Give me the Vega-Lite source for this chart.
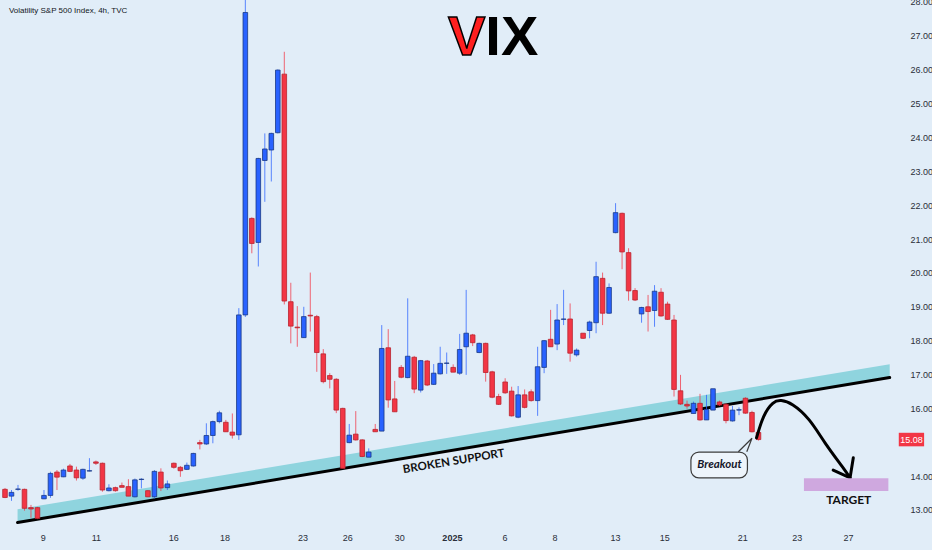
{
  "$schema": "https://vega.github.io/schema/vega-lite/v6.json",
  "autosize": {"type": "none"},
  "width": 880,
  "height": 525,
  "padding": {"left": 0, "top": 0, "right": 52, "bottom": 25},
  "background": "#e1edf8",
  "config": {
    "view": {"stroke": null},
    "axis": {"grid": false, "domain": false, "ticks": false, "tickSize": 0, "labelFontSize": 9, "labelColor": "#2a2e39", "labelFont": "Liberation Sans", "labelFlush": false, "labelOverlap": false, "title": null},
    "axisY": {"labelOverlap": false},
    "axisRight": {"labelOverlap": false},
    "axisQuantitative": {"labelOverlap": false}
  },
  "datasets": {
    "candles": [
      {"i":0,"o":13.61,"h":13.65,"l":13.35,"c":13.37},
      {"i":1,"o":13.41,"h":13.59,"l":13.27,"c":13.52},
      {"i":2,"o":13.61,"h":13.74,"l":13.57,"c":13.62},
      {"i":3,"o":13.61,"h":13.63,"l":12.98,"c":13.05},
      {"i":4,"o":13.07,"h":13.15,"l":12.77,"c":13.03},
      {"i":5,"o":13.07,"h":13.09,"l":12.73,"c":12.75},
      {"i":6,"o":13.33,"h":13.59,"l":13.32,"c":13.43},
      {"i":7,"o":13.43,"h":14.13,"l":13.36,"c":14.08},
      {"i":8,"o":14.12,"h":14.18,"l":13.59,"c":13.97},
      {"i":9,"o":13.98,"h":14.22,"l":13.97,"c":14.18},
      {"i":10,"o":14.30,"h":14.36,"l":14.12,"c":14.14},
      {"i":11,"o":14.18,"h":14.28,"l":13.87,"c":13.95},
      {"i":12,"o":13.94,"h":14.22,"l":13.89,"c":14.20},
      {"i":13,"o":14.15,"h":14.53,"l":14.14,"c":14.16},
      {"i":14,"o":14.42,"h":14.46,"l":14.33,"c":14.38},
      {"i":15,"o":14.38,"h":14.40,"l":13.54,"c":13.59},
      {"i":16,"o":13.57,"h":13.76,"l":13.55,"c":13.65},
      {"i":17,"o":13.66,"h":13.69,"l":13.54,"c":13.57},
      {"i":18,"o":13.72,"h":13.81,"l":13.67,"c":13.67},
      {"i":19,"o":13.69,"h":13.91,"l":13.41,"c":13.41},
      {"i":20,"o":13.39,"h":13.93,"l":13.37,"c":13.89},
      {"i":21,"o":13.90,"h":13.94,"l":13.64,"c":13.91},
      {"i":22,"o":13.57,"h":13.59,"l":13.38,"c":13.39},
      {"i":23,"o":13.39,"h":14.18,"l":13.34,"c":14.14},
      {"i":24,"o":14.12,"h":14.23,"l":13.56,"c":13.65},
      {"i":25,"o":13.66,"h":13.87,"l":13.59,"c":13.77},
      {"i":26,"o":14.38,"h":14.40,"l":14.22,"c":14.26},
      {"i":27,"o":14.26,"h":14.30,"l":13.98,"c":14.16},
      {"i":28,"o":14.20,"h":14.40,"l":14.18,"c":14.32},
      {"i":29,"o":14.30,"h":14.69,"l":14.28,"c":14.67},
      {"i":30,"o":14.99,"h":15.07,"l":14.79,"c":14.95},
      {"i":31,"o":14.95,"h":15.56,"l":14.92,"c":15.20},
      {"i":32,"o":15.20,"h":15.64,"l":14.97,"c":15.61},
      {"i":33,"o":15.61,"h":15.93,"l":15.56,"c":15.87},
      {"i":34,"o":15.59,"h":15.66,"l":15.31,"c":15.31},
      {"i":35,"o":15.30,"h":15.85,"l":15.11,"c":15.21},
      {"i":36,"o":15.22,"h":18.96,"l":15.07,"c":18.76},
      {"i":37,"o":18.76,"h":28.30,"l":18.70,"c":27.69},
      {"i":38,"o":21.61,"h":21.64,"l":20.58,"c":20.87},
      {"i":39,"o":20.90,"h":23.40,"l":20.19,"c":23.38},
      {"i":40,"o":23.32,"h":24.12,"l":22.10,"c":23.66},
      {"i":41,"o":23.63,"h":24.14,"l":22.70,"c":24.12},
      {"i":42,"o":24.14,"h":26.01,"l":24.12,"c":25.99},
      {"i":43,"o":25.87,"h":26.53,"l":19.07,"c":19.17},
      {"i":44,"o":19.15,"h":19.71,"l":17.92,"c":18.43},
      {"i":45,"o":18.40,"h":19.02,"l":17.82,"c":18.38},
      {"i":46,"o":18.09,"h":19.00,"l":18.08,"c":18.71},
      {"i":47,"o":18.75,"h":20.01,"l":18.27,"c":18.73},
      {"i":48,"o":18.71,"h":18.76,"l":17.08,"c":17.65},
      {"i":49,"o":17.61,"h":17.75,"l":16.74,"c":16.79},
      {"i":50,"o":16.97,"h":17.04,"l":16.59,"c":16.86},
      {"i":51,"o":16.86,"h":16.89,"l":15.86,"c":15.95},
      {"i":52,"o":16.00,"h":16.02,"l":14.23,"c":14.23},
      {"i":53,"o":14.99,"h":15.54,"l":14.97,"c":15.21},
      {"i":54,"o":15.24,"h":15.92,"l":15.05,"c":15.07},
      {"i":55,"o":15.07,"h":15.09,"l":14.56,"c":14.58},
      {"i":56,"o":14.56,"h":14.82,"l":14.56,"c":14.71},
      {"i":57,"o":15.38,"h":15.54,"l":15.31,"c":15.31},
      {"i":58,"o":15.33,"h":18.46,"l":15.33,"c":17.77},
      {"i":59,"o":17.79,"h":18.34,"l":16.02,"c":16.25},
      {"i":60,"o":16.28,"h":16.81,"l":15.90,"c":15.90},
      {"i":61,"o":17.21,"h":17.28,"l":16.89,"c":16.92},
      {"i":62,"o":16.91,"h":19.25,"l":16.89,"c":17.54},
      {"i":63,"o":17.51,"h":17.55,"l":16.45,"c":16.57},
      {"i":64,"o":16.54,"h":17.43,"l":16.47,"c":17.41},
      {"i":65,"o":17.40,"h":17.43,"l":16.66,"c":16.69},
      {"i":66,"o":16.71,"h":17.31,"l":16.69,"c":17.04},
      {"i":67,"o":17.02,"h":17.82,"l":17.00,"c":17.33},
      {"i":68,"o":17.33,"h":17.65,"l":17.02,"c":17.34},
      {"i":69,"o":17.21,"h":17.30,"l":17.07,"c":17.07},
      {"i":70,"o":17.04,"h":18.20,"l":16.99,"c":17.74},
      {"i":71,"o":17.82,"h":19.50,"l":16.99,"c":18.22},
      {"i":72,"o":18.17,"h":18.20,"l":17.84,"c":17.94},
      {"i":73,"o":17.65,"h":17.94,"l":17.63,"c":17.92},
      {"i":74,"o":17.92,"h":17.94,"l":16.79,"c":17.06},
      {"i":75,"o":17.08,"h":17.11,"l":16.30,"c":16.33},
      {"i":76,"o":16.35,"h":16.43,"l":16.10,"c":16.12},
      {"i":77,"o":16.78,"h":16.89,"l":16.43,"c":16.46},
      {"i":78,"o":16.51,"h":16.64,"l":15.76,"c":15.78},
      {"i":79,"o":15.74,"h":16.66,"l":15.71,"c":16.40},
      {"i":80,"o":16.40,"h":16.56,"l":16.00,"c":16.03},
      {"i":81,"o":16.49,"h":16.56,"l":16.20,"c":16.23},
      {"i":82,"o":16.23,"h":17.82,"l":15.78,"c":17.23},
      {"i":83,"o":17.21,"h":18.02,"l":17.04,"c":18.00},
      {"i":84,"o":18.04,"h":18.91,"l":17.82,"c":17.82},
      {"i":85,"o":17.90,"h":19.08,"l":17.72,"c":18.61},
      {"i":86,"o":18.63,"h":19.50,"l":18.46,"c":18.64},
      {"i":87,"o":18.64,"h":19.10,"l":17.38,"c":17.63},
      {"i":88,"o":17.58,"h":17.77,"l":17.53,"c":17.72},
      {"i":89,"o":18.22,"h":18.22,"l":18.05,"c":18.07},
      {"i":90,"o":18.30,"h":18.59,"l":18.07,"c":18.55},
      {"i":91,"o":18.53,"h":20.33,"l":18.22,"c":19.89},
      {"i":92,"o":19.84,"h":20.01,"l":18.46,"c":18.81},
      {"i":93,"o":18.81,"h":19.69,"l":18.79,"c":19.57},
      {"i":94,"o":21.19,"h":22.06,"l":21.17,"c":21.78},
      {"i":95,"o":21.76,"h":21.78,"l":20.11,"c":20.62},
      {"i":96,"o":20.60,"h":20.73,"l":19.18,"c":19.47},
      {"i":97,"o":19.48,"h":19.55,"l":19.17,"c":19.20},
      {"i":98,"o":18.79,"h":19.00,"l":18.53,"c":18.98},
      {"i":99,"o":19.00,"h":19.35,"l":18.27,"c":18.86},
      {"i":100,"o":18.89,"h":19.64,"l":18.41,"c":19.46},
      {"i":101,"o":19.43,"h":19.55,"l":18.71,"c":18.73},
      {"i":102,"o":19.08,"h":19.15,"l":18.61,"c":18.63},
      {"i":103,"o":18.61,"h":18.76,"l":16.35,"c":16.56},
      {"i":104,"o":16.52,"h":16.99,"l":16.10,"c":16.13},
      {"i":105,"o":16.12,"h":16.23,"l":15.99,"c":16.07},
      {"i":106,"o":15.85,"h":16.20,"l":15.85,"c":16.15},
      {"i":107,"o":16.15,"h":16.43,"l":15.64,"c":15.66},
      {"i":108,"o":15.66,"h":16.40,"l":15.66,"c":15.97},
      {"i":109,"o":15.95,"h":16.58,"l":15.95,"c":16.58},
      {"i":110,"o":16.19,"h":16.23,"l":16.07,"c":16.10},
      {"i":111,"o":16.12,"h":16.15,"l":15.56,"c":15.64},
      {"i":112,"o":15.63,"h":16.07,"l":15.61,"c":15.95},
      {"i":113,"o":15.95,"h":16.03,"l":15.80,"c":15.96},
      {"i":114,"o":16.30,"h":16.33,"l":15.84,"c":15.86},
      {"i":115,"o":15.88,"h":15.93,"l":15.29,"c":15.31},
      {"i":116,"o":15.29,"h":15.31,"l":15.05,"c":15.08}
    ],
    "band": [
      {"i":1.93,"lo":12.63,"hi":13.02},
      {"i":136.2,"lo":16.91,"hi":17.30}
    ],
    "support": [
      {"i":1.93,"p":12.63},
      {"i":136.2,"p":16.91}
    ],
    "curve": [
      {"i":115.7,"p":15.13},
      {"i":116.8,"p":15.76},
      {"i":118.2,"p":16.15},
      {"i":119.5,"p":16.23},
      {"i":121.3,"p":16.10},
      {"i":123.8,"p":15.66},
      {"i":126.3,"p":14.97},
      {"i":128.9,"p":14.28},
      {"i":130.1,"p":13.95}
    ],
    "head": [
      {"i":127.5,"p":14.18,"k":0},
      {"i":130.1,"p":13.95,"k":1},
      {"i":130.6,"p":14.54,"k":2}
    ],
    "tail": [
      {"i":112.9,"p":14.72,"k":0},
      {"i":115.0,"p":15.12,"k":1},
      {"i":114.2,"p":14.72,"k":2}
    ],
    "boxes": [
      {"name":"target","i":123.0,"i2":136.0,"p":13.56,"p2":13.94},
      {"name":"breakout","i":105.6,"i2":114.3,"p":13.95,"p2":14.71}
    ],
    "price": [
      {"i":137.6,"i2":141.5,"p":14.88,"p2":15.28,"m":139.55,"v":15.08,"label":"15.08"}
    ]
  },
  "layer": [
    {
      "data": {"name": "band"},
      "mark": {"type": "area", "color": "#8fd4de", "opacity": 1},
      "encoding": {
        "x": {
          "field": "i", "type": "quantitative",
          "scale": {"domain": [0, 133.94], "nice": false, "zero": false},
          "axis": {
            "values": [5.8, 14, 25.9, 33.8, 45.8, 52.7, 60.7, 68.8, 76.9, 84.6, 93.9, 101.5, 113.5, 121.9, 129.8],
            "labelExpr": "datum.value < 10 ? '9' : datum.value < 20 ? '11' : datum.value < 30 ? '16' : datum.value < 40 ? '18' : datum.value < 50 ? '23' : datum.value < 57 ? '26' : datum.value < 65 ? '30' : datum.value < 73 ? '2025' : datum.value < 80 ? '6' : datum.value < 90 ? '8' : datum.value < 98 ? '13' : datum.value < 108 ? '15' : datum.value < 118 ? '21' : datum.value < 126 ? '23' : '27'",
            "labelPadding": 8,
            "labelOverlap": false,
            "labelFontWeight": {"condition": {"test": "datum.value > 66 && datum.value < 72", "value": "bold"}, "value": "normal"}
          }
        },
        "y": {
          "field": "lo", "type": "quantitative",
          "scale": {"domain": [12.557, 28.059], "nice": false, "zero": false},
          "axis": {"orient": "right", "values": [13, 14, 16, 17, 18, 19, 20, 21, 22, 23, 24, 25, 26, 27, 28], "format": ".2f", "labelPadding": 30, "labelOverlap": false, "labelSeparation": 0, "labelBound": false}
        },
        "y2": {"field": "hi"}
      }
    },
    {
      "data": {"name": "support"},
      "mark": {"type": "line", "color": "#000000", "strokeWidth": 3, "strokeCap": "round"},
      "encoding": {
        "x": {"field": "i", "type": "quantitative", "scale": {"domain": [0, 133.94], "nice": false, "zero": false}, "axis": {"labelOverlap": false}},
        "y": {"field": "p", "type": "quantitative", "scale": {"domain": [12.557, 28.059], "nice": false, "zero": false}, "axis": {"orient": "right", "values": [13, 14, 16, 17, 18, 19, 20, 21, 22, 23, 24, 25, 26, 27, 28], "format": ".2f", "labelPadding": 30, "labelOverlap": false}}
      }
    },
    {
      "data": {"name": "candles"},
      "mark": {"type": "rule", "strokeWidth": 1, "opacity": 0.75},
      "encoding": {
        "x": {"field": "i", "type": "quantitative", "scale": {"domain": [0, 133.94], "nice": false, "zero": false}, "axis": {"labelOverlap": false}},
        "y": {"field": "l", "type": "quantitative", "scale": {"domain": [12.557, 28.059], "nice": false, "zero": false}, "axis": {"orient": "right", "values": [13, 14, 16, 17, 18, 19, 20, 21, 22, 23, 24, 25, 26, 27, 28], "format": ".2f", "labelPadding": 30, "labelOverlap": false}},
        "y2": {"field": "h"},
        "color": {"condition": {"test": "datum.c >= datum.o", "value": "#2962ff"}, "value": "#f23645"}
      }
    },
    {
      "data": {"name": "candles"},
      "mark": {"type": "bar", "size": 4.6, "strokeWidth": 0.8},
      "encoding": {
        "x": {"field": "i", "type": "quantitative", "scale": {"domain": [0, 133.94], "nice": false, "zero": false}, "axis": {"labelOverlap": false}},
        "y": {"field": "o", "type": "quantitative", "scale": {"domain": [12.557, 28.059], "nice": false, "zero": false}, "axis": {"orient": "right", "values": [13, 14, 16, 17, 18, 19, 20, 21, 22, 23, 24, 25, 26, 27, 28], "format": ".2f", "labelPadding": 30, "labelOverlap": false}},
        "y2": {"field": "c"},
        "fill": {"condition": {"test": "datum.c >= datum.o", "value": "#2962ff"}, "value": "#f23645"},
        "stroke": {"condition": {"test": "datum.c >= datum.o", "value": "#1b3a85"}, "value": "#b9232f"}
      }
    },
    {
      "data": {"name": "curve"},
      "mark": {"type": "line", "color": "#000000", "strokeWidth": 3, "interpolate": "natural", "strokeCap": "round"},
      "encoding": {
        "x": {"field": "i", "type": "quantitative", "scale": {"domain": [0, 133.94], "nice": false, "zero": false}, "axis": {"labelOverlap": false}},
        "y": {"field": "p", "type": "quantitative", "scale": {"domain": [12.557, 28.059], "nice": false, "zero": false}, "axis": {"orient": "right", "values": [13, 14, 16, 17, 18, 19, 20, 21, 22, 23, 24, 25, 26, 27, 28], "format": ".2f", "labelPadding": 30, "labelOverlap": false}}
      }
    },
    {
      "data": {"name": "head"},
      "mark": {"type": "line", "color": "#000000", "strokeWidth": 3, "strokeCap": "round", "strokeJoin": "miter"},
      "encoding": {
        "x": {"field": "i", "type": "quantitative", "scale": {"domain": [0, 133.94], "nice": false, "zero": false}, "axis": {"labelOverlap": false}},
        "y": {"field": "p", "type": "quantitative", "scale": {"domain": [12.557, 28.059], "nice": false, "zero": false}, "axis": {"orient": "right", "values": [13, 14, 16, 17, 18, 19, 20, 21, 22, 23, 24, 25, 26, 27, 28], "format": ".2f", "labelPadding": 30, "labelOverlap": false}},
        "order": {"field": "k", "type": "quantitative"}
      }
    },
    {
      "data": {"name": "boxes"},
      "mark": {"type": "rect", "cornerRadius": 0},
      "transform": [{"filter": "datum.name == 'target'"}],
      "encoding": {
        "x": {"field": "i", "type": "quantitative", "scale": {"domain": [0, 133.94], "nice": false, "zero": false}, "axis": {"labelOverlap": false}},
        "x2": {"field": "i2"},
        "y": {"field": "p", "type": "quantitative", "scale": {"domain": [12.557, 28.059], "nice": false, "zero": false}, "axis": {"orient": "right", "values": [13, 14, 16, 17, 18, 19, 20, 21, 22, 23, 24, 25, 26, 27, 28], "format": ".2f", "labelPadding": 30, "labelOverlap": false}},
        "y2": {"field": "p2"},
        "color": {"value": "#cfa8df"}
      }
    },
    {
      "data": {"name": "boxes"},
      "mark": {"type": "rect", "cornerRadius": 8, "fill": "#edf4fb", "stroke": "#3c3c3c", "strokeWidth": 1.2},
      "transform": [{"filter": "datum.name == 'breakout'"}],
      "encoding": {
        "x": {"field": "i", "type": "quantitative", "scale": {"domain": [0, 133.94], "nice": false, "zero": false}, "axis": {"labelOverlap": false}},
        "x2": {"field": "i2"},
        "y": {"field": "p", "type": "quantitative", "scale": {"domain": [12.557, 28.059], "nice": false, "zero": false}, "axis": {"orient": "right", "values": [13, 14, 16, 17, 18, 19, 20, 21, 22, 23, 24, 25, 26, 27, 28], "format": ".2f", "labelPadding": 30, "labelOverlap": false}},
        "y2": {"field": "p2"}
      }
    },
    {
      "data": {"name": "tail"},
      "mark": {"type": "line", "color": "#3c3c3c", "strokeWidth": 1.2},
      "encoding": {
        "x": {"field": "i", "type": "quantitative", "scale": {"domain": [0, 133.94], "nice": false, "zero": false}, "axis": {"labelOverlap": false}},
        "y": {"field": "p", "type": "quantitative", "scale": {"domain": [12.557, 28.059], "nice": false, "zero": false}, "axis": {"orient": "right", "values": [13, 14, 16, 17, 18, 19, 20, 21, 22, 23, 24, 25, 26, 27, 28], "format": ".2f", "labelPadding": 30, "labelOverlap": false}},
        "order": {"field": "k", "type": "quantitative"}
      }
    },
    {
      "data": {"values": [{"t": "Breakout", "i": 110.0, "p": 14.33}]},
      "mark": {"type": "text", "font": "Lato", "fontSize": 11.5, "fontWeight": "bold", "fontStyle": "italic", "color": "#15162a", "align": "center", "baseline": "middle"},
      "encoding": {
        "x": {"field": "i", "type": "quantitative", "scale": {"domain": [0, 133.94], "nice": false, "zero": false}, "axis": {"labelOverlap": false}},
        "y": {"field": "p", "type": "quantitative", "scale": {"domain": [12.557, 28.059], "nice": false, "zero": false}, "axis": {"orient": "right", "values": [13, 14, 16, 17, 18, 19, 20, 21, 22, 23, 24, 25, 26, 27, 28], "format": ".2f", "labelPadding": 30, "labelOverlap": false}},
        "text": {"field": "t"}
      }
    },
    {
      "data": {"values": [{"t": "TARGET", "i": 129.9, "p": 13.30}]},
      "mark": {"type": "text", "font": "Lato", "fontSize": 12, "fontWeight": "bold", "color": "#111111", "align": "center", "baseline": "middle"},
      "encoding": {
        "x": {"field": "i", "type": "quantitative", "scale": {"domain": [0, 133.94], "nice": false, "zero": false}, "axis": {"labelOverlap": false}},
        "y": {"field": "p", "type": "quantitative", "scale": {"domain": [12.557, 28.059], "nice": false, "zero": false}, "axis": {"orient": "right", "values": [13, 14, 16, 17, 18, 19, 20, 21, 22, 23, 24, 25, 26, 27, 28], "format": ".2f", "labelPadding": 30, "labelOverlap": false}},
        "text": {"field": "t"}
      }
    },
    {
      "data": {"values": [{"t": "BROKEN SUPPORT", "i": 69.1, "p": 14.42}]},
      "mark": {"type": "text", "font": "Lato", "fontSize": 11.5, "fontWeight": "bold", "color": "#111111", "align": "center", "baseline": "middle", "angle": -9.3},
      "encoding": {
        "x": {"field": "i", "type": "quantitative", "scale": {"domain": [0, 133.94], "nice": false, "zero": false}, "axis": {"labelOverlap": false}},
        "y": {"field": "p", "type": "quantitative", "scale": {"domain": [12.557, 28.059], "nice": false, "zero": false}, "axis": {"orient": "right", "values": [13, 14, 16, 17, 18, 19, 20, 21, 22, 23, 24, 25, 26, 27, 28], "format": ".2f", "labelPadding": 30, "labelOverlap": false}},
        "text": {"field": "t"}
      }
    },
    {
      "data": {"values": [{"t": "Volatility S&P 500 Index, 4h, TVC", "i": 0.6, "p": 27.73}]},
      "mark": {"type": "text", "font": "Liberation Sans", "fontSize": 8, "color": "#131722", "align": "left", "baseline": "middle"},
      "encoding": {
        "x": {"field": "i", "type": "quantitative", "scale": {"domain": [0, 133.94], "nice": false, "zero": false}, "axis": {"labelOverlap": false}},
        "y": {"field": "p", "type": "quantitative", "scale": {"domain": [12.557, 28.059], "nice": false, "zero": false}, "axis": {"orient": "right", "values": [13, 14, 16, 17, 18, 19, 20, 21, 22, 23, 24, 25, 26, 27, 28], "format": ".2f", "labelPadding": 30, "labelOverlap": false}},
        "text": {"field": "t"}
      }
    },
    {
      "data": {"values": [{"t": "V", "i": 73.95, "p": 26.435}]},
      "mark": {"type": "text", "font": "Liberation Sans", "fontSize": 56, "fontWeight": "bold", "color": "#ff1f1f", "stroke": "#000000", "strokeWidth": 1.5, "align": "right", "baseline": "alphabetic"},
      "encoding": {
        "x": {"field": "i", "type": "quantitative", "scale": {"domain": [0, 133.94], "nice": false, "zero": false}, "axis": {"labelOverlap": false}},
        "y": {"field": "p", "type": "quantitative", "scale": {"domain": [12.557, 28.059], "nice": false, "zero": false}, "axis": {"orient": "right", "values": [13, 14, 16, 17, 18, 19, 20, 21, 22, 23, 24, 25, 26, 27, 28], "format": ".2f", "labelPadding": 30, "labelOverlap": false}},
        "text": {"field": "t"}
      }
    },
    {
      "data": {"values": [{"t": "IX", "i": 73.95, "p": 26.435}]},
      "mark": {"type": "text", "font": "Liberation Sans", "fontSize": 56, "fontWeight": "bold", "color": "#000000", "align": "left", "baseline": "alphabetic"},
      "encoding": {
        "x": {"field": "i", "type": "quantitative", "scale": {"domain": [0, 133.94], "nice": false, "zero": false}, "axis": {"labelOverlap": false}},
        "y": {"field": "p", "type": "quantitative", "scale": {"domain": [12.557, 28.059], "nice": false, "zero": false}, "axis": {"orient": "right", "values": [13, 14, 16, 17, 18, 19, 20, 21, 22, 23, 24, 25, 26, 27, 28], "format": ".2f", "labelPadding": 30, "labelOverlap": false}},
        "text": {"field": "t"}
      }
    },
    {
      "data": {"name": "price"},
      "mark": {"type": "rect", "color": "#f23645"},
      "encoding": {
        "x": {"field": "i", "type": "quantitative", "scale": {"domain": [0, 133.94], "nice": false, "zero": false}, "axis": {"labelOverlap": false}},
        "x2": {"field": "i2"},
        "y": {"field": "p", "type": "quantitative", "scale": {"domain": [12.557, 28.059], "nice": false, "zero": false}, "axis": {"orient": "right", "values": [13, 14, 16, 17, 18, 19, 20, 21, 22, 23, 24, 25, 26, 27, 28], "format": ".2f", "labelPadding": 30, "labelOverlap": false}},
        "y2": {"field": "p2"}
      }
    },
    {
      "data": {"name": "price"},
      "mark": {"type": "text", "font": "Liberation Sans", "fontSize": 9, "color": "#ffffff", "align": "center", "baseline": "middle"},
      "encoding": {
        "x": {"field": "m", "type": "quantitative", "scale": {"domain": [0, 133.94], "nice": false, "zero": false}, "axis": {"labelOverlap": false}},
        "y": {"field": "v", "type": "quantitative", "scale": {"domain": [12.557, 28.059], "nice": false, "zero": false}, "axis": {"orient": "right", "values": [13, 14, 16, 17, 18, 19, 20, 21, 22, 23, 24, 25, 26, 27, 28], "format": ".2f", "labelPadding": 30, "labelOverlap": false}},
        "text": {"field": "label"}
      }
    }
  ]
}
